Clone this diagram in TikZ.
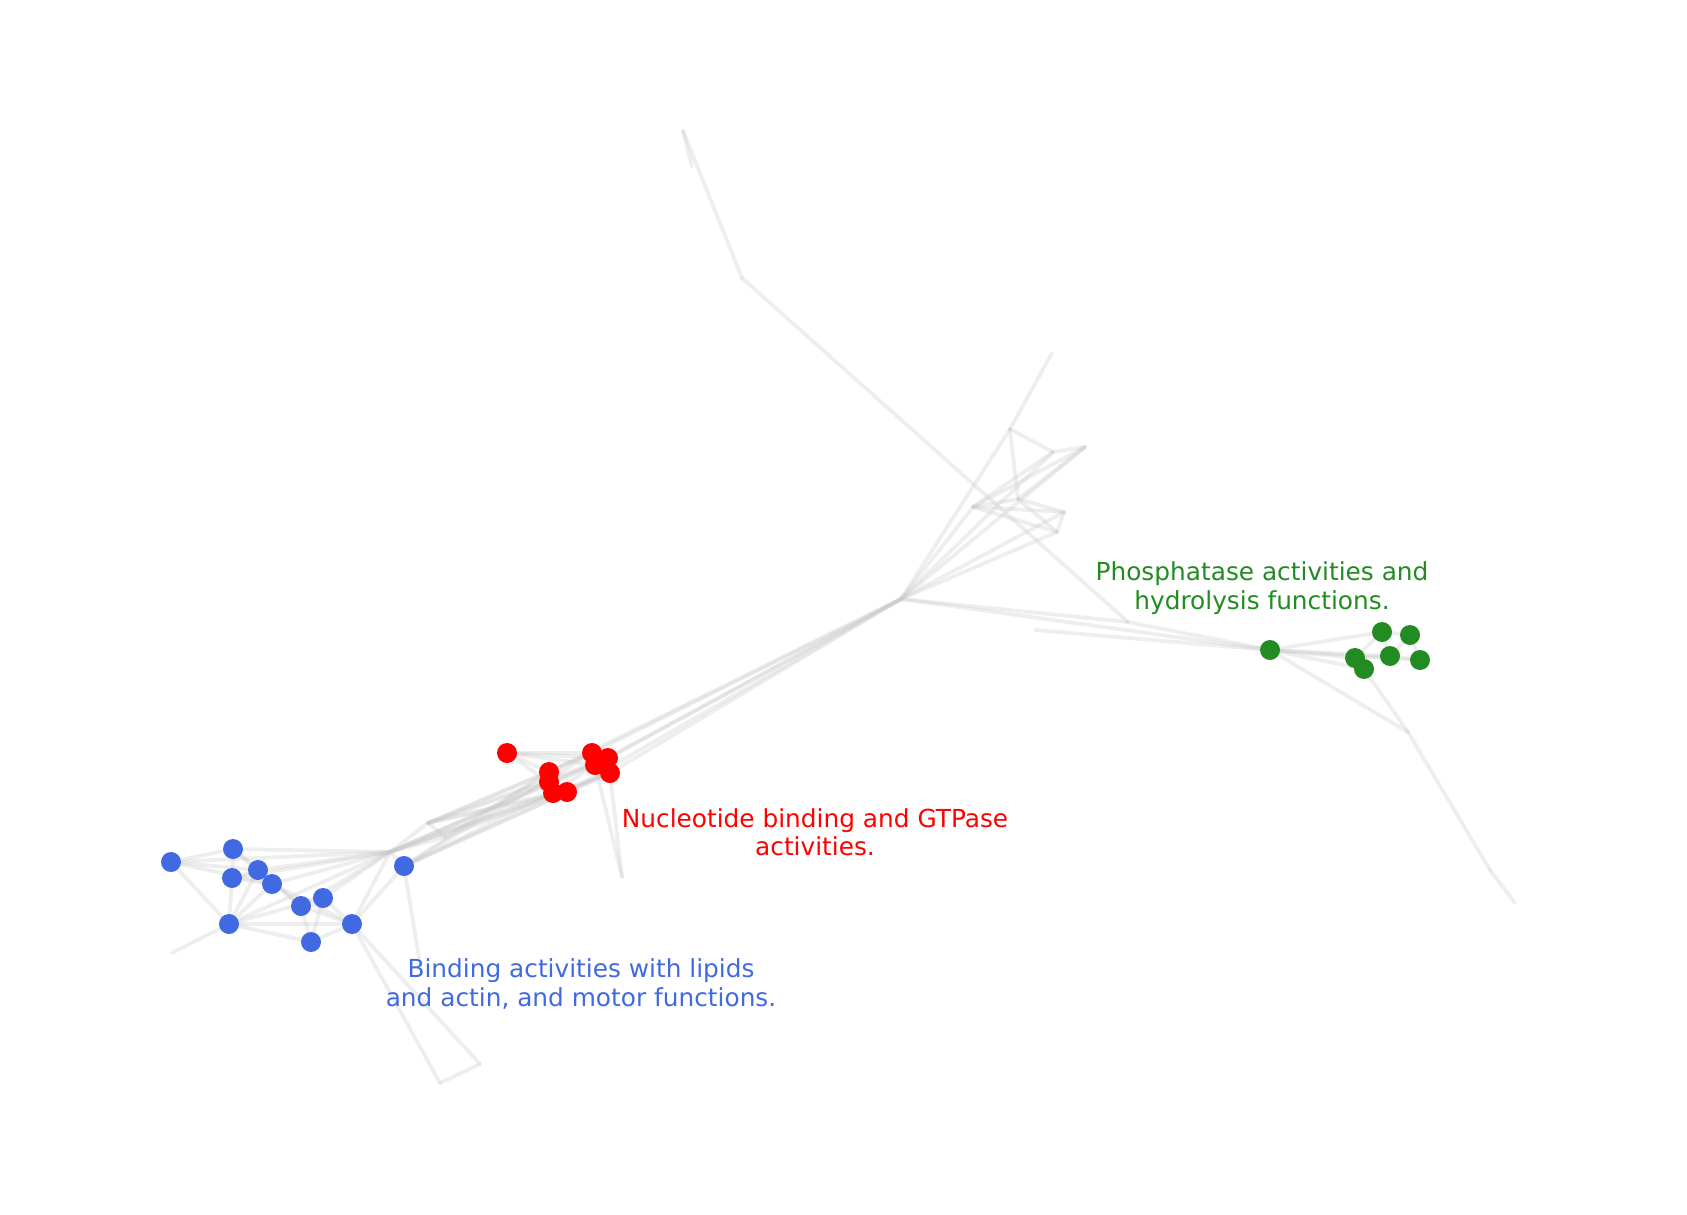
\documentclass[tikz,border=0pt]{standalone}
\usepackage{fontspec}
\setmainfont{DejaVu Sans}
\definecolor{nblue}{RGB}{65,105,225}
\definecolor{nred}{RGB}{255,0,0}
\definecolor{ngreen}{RGB}{34,139,34}
\definecolor{edgec}{RGB}{200,200,200}
\begin{document}
\begin{tikzpicture}[x=1pt,y=-1pt,
  edge/.style={draw=edgec,opacity=0.3,line width=3.8pt,line cap=round,line join=round},
  dot/.style={circle,inner sep=0pt,minimum size=20pt,draw=none},
  bluedot/.style={dot,fill=nblue},
  reddot/.style={dot,fill=nred},
  greendot/.style={dot,fill=ngreen},
  lab/.style={align=center,font=\fontsize{24.8}{28.5}\selectfont,inner sep=0pt}]
\useasboundingbox (0,0) rectangle (1687,1215);
% hidden coordinates
\coordinate (A) at (683,131);
\coordinate (A2) at (692,167);
\coordinate (B) at (742,278);
\coordinate (Q) at (1128,622);
\coordinate (H) at (901,599);
\coordinate (L) at (1035,630);
\coordinate (T) at (1052,353);
\coordinate (P1) at (1010,429);
\coordinate (P2) at (1053,452);
\coordinate (P3) at (1085,447);
\coordinate (P4) at (973,507);
\coordinate (P5) at (1018,499);
\coordinate (P6) at (1064,512);
\coordinate (P7) at (1057,532);
\coordinate (GT1) at (1408,732);
\coordinate (GT2) at (1490,870);
\coordinate (GT3) at (1515,903);
\coordinate (RT) at (622,877);
\coordinate (BT) at (172,953);
\coordinate (J1) at (428,823);
\coordinate (J2) at (390,852);
\coordinate (J3) at (445,837);
\coordinate (K1) at (419,958);
\coordinate (K2) at (440,1083);
\coordinate (K3) at (480,1064);
% node positions
\coordinate (g1) at (1270,650);
\coordinate (g2) at (1382,632);
\coordinate (g3) at (1410,635);
\coordinate (g4) at (1355,658);
\coordinate (g5) at (1390,656);
\coordinate (g6) at (1420,660);
\coordinate (g7) at (1364,669);
\coordinate (ra) at (507,753);
\coordinate (rb) at (549,772);
\coordinate (rc) at (549,782);
\coordinate (rd) at (553,793);
\coordinate (re) at (567,792);
\coordinate (rf) at (592,753);
\coordinate (rg) at (608,758);
\coordinate (rh) at (595,765);
\coordinate (ri) at (610,773);
\coordinate (b1) at (171,862);
\coordinate (b2) at (233,849);
\coordinate (b3) at (232,878);
\coordinate (b4) at (258,870);
\coordinate (b5) at (272,884);
\coordinate (b6) at (301,906);
\coordinate (b7) at (323,898);
\coordinate (b8) at (229,924);
\coordinate (b9) at (311,942);
\coordinate (b10) at (352,924);
\coordinate (b11) at (404,866);
% edges
\foreach \u/\v in {A/A2,A/B,B/Q,T/P1,
  P1/P2,P2/P3,P1/P5,P1/H,P4/P2,P4/P3,P4/P5,P4/P6,P4/P7,P5/P6,P5/P7,P6/P7,P5/P3,
  H/P4,H/P2,H/P3,H/P6,H/P7,
  H/Q,Q/g1,L/g1,H/g1,
  g1/g2,g1/g4,g1/g5,g1/g6,g1/g7,g2/g3,g2/g5,g3/g6,g5/g6,g4/g5,g2/g4,g3/g5,
  g1/GT1,g7/GT1,GT1/GT2,GT2/GT3,
  H/rf,H/rg,H/ri,H/re,H/rb,H/rh,
  ra/rf,ra/rg,ra/rh,ra/rb,ra/rc,rb/rf,rc/rg,rd/rh,re/ri,rb/rd,rc/re,rf/rh,rg/ri,
  rh/RT,ri/RT,
  rb/J1,rc/J1,rd/J1,re/J1,rf/J1,rg/J2,rh/J2,ri/b11,rd/b11,re/b11,rc/J2,rb/J3,ri/J3,
  rf/b11,rg/J1,re/J2,rd/J2,rb/b11,ri/J2,
  J1/J2,J1/J3,J3/J2,
  b1/b2,b1/b4,b1/b5,b1/b8,b2/b3,b2/b4,b2/b6,b3/b8,b3/b5,b4/b8,b5/b8,b8/b9,b8/b10,
  b8/b7,b8/BT,b6/b9,b7/b9,b9/b10,b5/b10,b7/b10,b6/b10,b10/J2,b10/b11,
  b2/J2,b4/J2,b5/J2,b3/J2,b8/J2,b6/J2,b7/J2,b11/J2,b3/b4,b4/b6,b1/J2,
  b11/K1,b10/K2,b10/K3,K2/K3}
  \draw[edge] (\u) -- (\v);
% nodes
\foreach \n in {g1,g2,g3,g4,g5,g6,g7} \node[greendot] (n\n) at (\n) {};
\foreach \n in {ra,rb,rc,rd,re,rf,rg,rh,ri} \node[reddot] (n\n) at (\n) {};
\foreach \n in {b1,b2,b3,b4,b5,b6,b7,b8,b9,b10,b11} \node[bluedot] (n\n) at (\n) {};
% labels
\node[lab,text=ngreen] (lg) at (1262,588) {Phosphatase activities and\\hydrolysis functions.};
\node[lab,text=nred] (lr) at (815,832) {Nucleotide binding and GTPase\\activities.};
\node[lab,text=nblue] (lb) at (581,984) {Binding activities with lipids\\and actin, and motor functions.};
\end{tikzpicture}
\end{document}
